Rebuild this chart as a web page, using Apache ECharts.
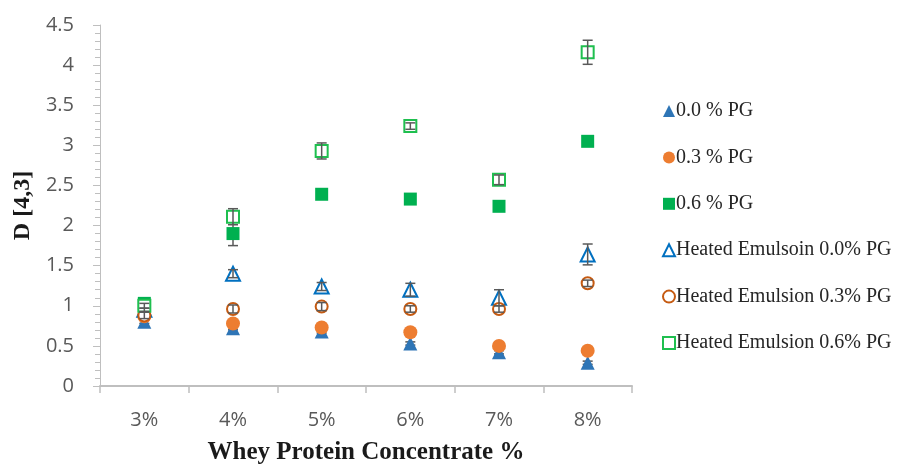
<!DOCTYPE html>
<html>
<head>
<meta charset="utf-8">
<script src="https://cdn.jsdelivr.net/npm/echarts@6/dist/echarts.min.js"></script>
<style>
  html, body { margin: 0; padding: 0; background: #fff; }
  #chart { width: 900px; height: 466px; }
</style>
</head>
<body>
<div id="chart"></div>
<script>
// Whey protein concentrate levels
const categories = ['3%', '4%', '5%', '6%', '7%', '8%'];

// D[4,3] means
const pg00 = [0.80, 0.72, 0.68, 0.53, 0.42, 0.29];
const pg03 = [0.87, 0.78, 0.73, 0.67, 0.50, 0.44];
const pg06 = [1.03, 1.90, 2.39, 2.33, 2.24, 3.05];
const heated00 = [0.95, 1.40, 1.24, 1.20, 1.10, 1.64];
const heated03 = [0.88, 0.96, 0.99, 0.96, 0.96, 1.28];
const heated06 = [1.00, 2.11, 2.93, 3.24, 2.57, 4.16];

// error bar half-widths
const pg00Err = [0.02, 0.02, 0.02, 0.02, 0.02, 0.02];
const pg03Err = [0.02, 0.02, 0.02, 0.02, 0.02, 0.02];
const pg06Err = [0.03, 0.15, 0.03, 0.03, 0.03, 0.03];
const heated00Err = [0.02, 0.05, 0.05, 0.08, 0.10, 0.13];
const heated03Err = [0.04, 0.05, 0.05, 0.04, 0.04, 0.04];
const heated06Err = [0.03, 0.10, 0.10, 0.04, 0.06, 0.15];

const yTicks = [0, 0.5, 1, 1.5, 2, 2.5, 3, 3.5, 4, 4.5];

const chart = echarts.init(document.getElementById('chart'));

const serif = 'Liberation Serif';
const sans = 'Open Sans';

const seriesDefs = [
  { name: '0.0 % PG', data: pg00, err: pg00Err, symbol: 'triangle', size: 14, color: '#2e75b6' },
  { name: '0.3 % PG', data: pg03, err: pg03Err, symbol: 'circle', size: 14, color: '#ed7d31' },
  { name: '0.6 % PG', data: pg06, err: pg06Err, symbol: 'rect', size: 13, color: '#00b050' },
  { name: 'Heated Emulsoin 0.0% PG', data: heated00, err: heated00Err, symbol: 'emptyTriangle', size: 14, color: '#0070c0' },
  { name: 'Heated Emulsion 0.3% PG', data: heated03, err: heated03Err, symbol: 'emptyCircle', size: 12, color: '#c55a11' },
  { name: 'Heated Emulsion 0.6% PG', data: heated06, err: heated06Err, symbol: 'emptyRect', size: 12, color: '#1fbf4f' }
];

const errorBar = (params, api) => {
  const x = api.coord([api.value(0), api.value(1)])[0];
  const lo = api.coord([api.value(0), api.value(1)])[1];
  const hi = api.coord([api.value(0), api.value(2)])[1];
  const cap = 5;
  const style = { stroke: '#595959', lineWidth: 1.5 };
  return {
    type: 'group',
    children: [
      { type: 'line', shape: { x1: x, y1: lo, x2: x, y2: hi }, style },
      { type: 'line', shape: { x1: x - cap, y1: lo, x2: x + cap, y2: lo }, style },
      { type: 'line', shape: { x1: x - cap, y1: hi, x2: x + cap, y2: hi }, style }
    ]
  };
};

const series = [];
seriesDefs.forEach((s, k) => {
  const hollow = s.symbol.startsWith('empty');
  series.push({
    name: s.name,
    type: 'scatter',
    symbol: s.symbol,
    symbolSize: s.size,
    data: s.data,
    itemStyle: { color: s.color, opacity: 1, borderWidth: hollow ? 2 : 0, borderColor: s.color },
    z: 2
  });
  // bars sit under filled marks, over hollow ones
  series.push({
    type: 'custom',
    renderItem: errorBar,
    data: s.data.map((v, i) => [i, v - s.err[i], v + s.err[i]]),
    silent: true,
    z: hollow ? 3 : 1
  });
});

chart.setOption({
  animation: false,
  backgroundColor: '#fff',
  grid: { left: 100, right: 268, top: 25, bottom: 80, outerBoundsMode: 'none' },
  legend: {
    data: seriesDefs.map(s => s.name),
    orient: 'vertical',
    left: 662,
    top: 101,
    padding: 0,
    itemGap: 26.4,
    itemWidth: 12,
    itemHeight: 12,
    textStyle: { fontFamily: serif, fontSize: 20, color: '#262626', padding: [0, 0, 0, -4] }
  },
  xAxis: {
    type: 'category',
    data: categories,
    name: 'Whey Protein Concentrate %',
    nameLocation: 'middle',
    nameGap: 54,
    nameTextStyle: { fontFamily: serif, fontWeight: 'bold', fontSize: 25, color: '#1a1a1a' },
    axisLine: { lineStyle: { color: '#bfbfbf', width: 2 } },
    axisTick: { show: true, length: 7, lineStyle: { color: '#bfbfbf', width: 1.5 } },
    axisLabel: { margin: 24, fontFamily: sans, fontSize: 20, color: '#595959' },
    splitLine: { show: false }
  },
  yAxis: {
    type: 'value',
    min: yTicks[0],
    max: yTicks[yTicks.length - 1],
    interval: 0.5,
    name: 'D [4,3]',
    nameLocation: 'middle',
    nameGap: 64,
    nameTextStyle: { fontFamily: serif, fontWeight: 'bold', fontSize: 24, color: '#1a1a1a' },
    axisLine: { show: true, lineStyle: { color: '#bfbfbf', width: 1 } },
    axisTick: { show: true, length: 7, lineStyle: { color: '#bfbfbf' } },
    minorTick: { show: true, splitNumber: 5, length: 5, lineStyle: { color: '#bfbfbf' } },
    axisLabel: { margin: 26, fontFamily: sans, fontSize: 20, color: '#595959' },
    splitLine: { show: false }
  },
  series
});
</script>
</body>
</html>
